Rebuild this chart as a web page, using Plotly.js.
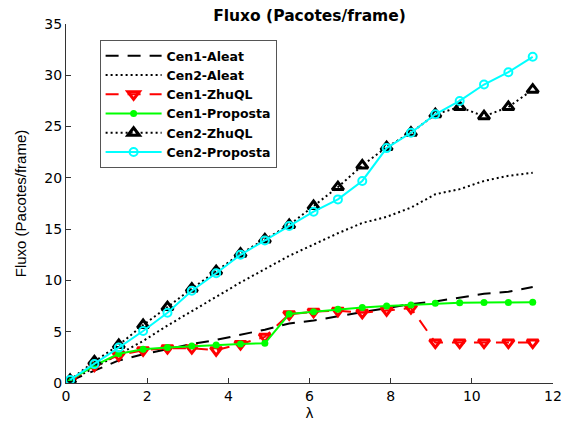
<!DOCTYPE html>
<html>
<head>
<meta charset="utf-8">
<script src="https://cdn.plot.ly/plotly-3.0.1.min.js"></script>
<style>html,body{margin:0;padding:0;background:#fff;}#chart{width:571px;height:425px;}</style>
</head>
<body>
<div id="chart"></div>
<script>
const lambda = [0.1, 0.7, 1.3, 1.9, 2.5, 3.1, 3.7, 4.3, 4.9, 5.5, 6.1, 6.7, 7.3, 7.9, 8.5, 9.1, 9.7, 10.3, 10.9, 11.5];

const cen1Aleat    = [0.2, 1.2, 2.2, 2.8, 3.3, 3.8, 4.2, 4.7, 5.2, 5.8, 6.1, 6.5, 6.9, 7.3, 7.7, 7.95, 8.3, 8.7, 8.9, 9.35];
const cen2Aleat    = [0.2, 1.5, 2.8, 4.1, 5.6, 7.0, 8.4, 9.8, 11.1, 12.4, 13.5, 14.6, 15.6, 16.2, 17.1, 18.4, 18.9, 19.7, 20.2, 20.5];
const cen1ZhuQL    = [0.2, 1.7, 2.7, 3.2, 3.4, 3.4, 3.2, 3.8, 4.5, 6.7, 6.95, 7.05, 6.85, 7.1, 7.3, 3.95, 3.95, 3.95, 3.95, 3.95];
const cen1Proposta = [0.3, 1.7, 2.85, 3.3, 3.47, 3.6, 3.7, 3.8, 3.87, 6.72, 6.95, 7.18, 7.37, 7.5, 7.6, 7.77, 7.83, 7.85, 7.86, 7.87];
const cen2ZhuQL    = [0.3, 2.1, 3.7, 5.65, 7.4, 9.2, 10.9, 12.6, 14.0, 15.4, 17.25, 19.1, 21.2, 23.0, 24.4, 26.2, 26.9, 26.0, 26.9, 28.6];
const cen2Proposta = [0.3, 1.85, 3.45, 5.07, 6.85, 9.0, 10.7, 12.5, 13.9, 15.3, 16.7, 17.9, 19.7, 22.9, 24.4, 26.2, 27.5, 29.1, 30.3, 31.8];

const seriesNames = ['Cen1-Aleat', 'Cen2-Aleat', 'Cen1-ZhuQL', 'Cen1-Proposta', 'Cen2-ZhuQL', 'Cen2-Proposta'];
const xTicks = [0, 2, 4, 6, 8, 10, 12];
const yTicks = [0, 5, 10, 15, 20, 25, 30, 35];

const traces = [
  {x: lambda, y: cen1Aleat, name: seriesNames[0], mode: 'lines',
   line: {color: '#000000', width: 2, dash: '13px,9px'}},
  {x: lambda, y: cen2Aleat, name: seriesNames[1], mode: 'lines',
   line: {color: '#000000', width: 2, dash: '2px,3px'}},
  {x: lambda, y: cen1ZhuQL, name: seriesNames[2], mode: 'lines+markers',
   line: {color: '#ff0000', width: 2, dash: '13px,9px'},
   marker: {symbol: 'triangle-down-open', size: 10, color: '#ff0000', line: {width: 3, color: '#ff0000'}}},
  {x: lambda, y: cen1Proposta, name: seriesNames[3], mode: 'lines+markers',
   line: {color: '#00ff00', width: 2},
   marker: {symbol: 'circle', size: 7, color: '#00ff00'}},
  {x: lambda, y: cen2ZhuQL, name: seriesNames[4], mode: 'lines+markers',
   line: {color: '#000000', width: 2, dash: '2px,3px'},
   marker: {symbol: 'triangle-up-open', size: 10, color: '#000000', line: {width: 3, color: '#000000'}}},
  {x: lambda, y: cen2Proposta, name: seriesNames[5], mode: 'lines+markers',
   line: {color: '#00ffff', width: 2},
   marker: {symbol: 'circle-open', size: 8, color: '#00ffff', line: {width: 2, color: '#00ffff'}}}
];

const dv = 'DejaVu Sans, Liberation Sans, Arial, sans-serif';
const layout = {
  width: 571, height: 425,
  margin: {l: 66, r: 18, t: 24, b: 42},
  paper_bgcolor: '#ffffff', plot_bgcolor: '#ffffff',
  font: {family: dv, color: '#000000', size: 14},
  title: {text: '<b>Fluxo (Pacotes/frame)</b>', x: 0.5, xref: 'paper', y: 0.963, yref: 'container',
          yanchor: 'middle', font: {size: 15.5, family: dv}},
  showlegend: true,
  legend: {x: 0.069, y: 0.955, xanchor: 'left', yanchor: 'top', bgcolor: '#ffffff',
           bordercolor: '#555555', borderwidth: 1, itemwidth: 56,
           font: {size: 12.5, family: 'DejaVu Sans, sans-serif', weight: 'bold'}, tracegroupgap: 0},
  xaxis: {range: [0, 12], tickvals: xTicks, showgrid: false, zeroline: false,
          showline: true, linecolor: '#333333', linewidth: 1, mirror: false,
          ticks: 'inside', ticklen: 5, tickcolor: '#333333',
          tickfont: {size: 14, family: dv},
          title: {text: 'λ', font: {size: 15, family: 'Liberation Sans, sans-serif'}, standoff: 4}},
  yaxis: {range: [0, 35], tickvals: yTicks, showgrid: false, zeroline: false,
          showline: true, linecolor: '#333333', linewidth: 1, mirror: false,
          ticks: 'inside', ticklen: 5, tickcolor: '#333333',
          tickfont: {size: 14, family: dv},
          title: {text: 'Fluxo (Pacotes/frame)', font: {size: 15, family: 'Liberation Sans, sans-serif'}, standoff: 14}}
};

Plotly.newPlot('chart', traces, layout, {displayModeBar: false, staticPlot: true});
</script>
</body>
</html>
